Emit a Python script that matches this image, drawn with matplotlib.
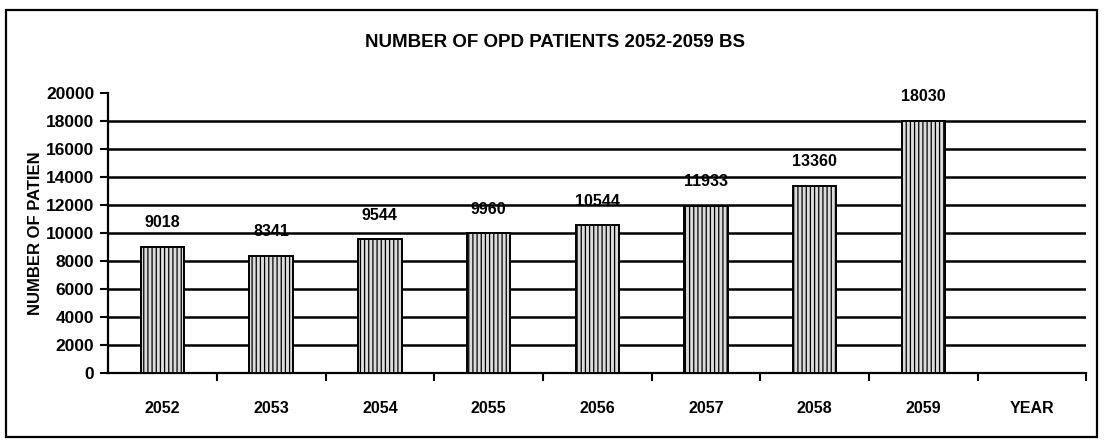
import matplotlib.pyplot as plt
from matplotlib.patches import Rectangle

# values as printed above each bar
years = ['2052', '2053', '2054', '2055', '2056', '2057', '2058', '2059']
patients = [9018, 8341, 9544, 9960, 10544, 11933, 13360, 18030]
x_labels = years + ['YEAR']
y_ticks = list(range(0, 20001, 2000))

plt.rcParams['font.family'] = ['Liberation Sans', 'DejaVu Sans']
plt.rcParams['font.weight'] = 'bold'
plt.rcParams['hatch.color'] = '#5a5a5a'
plt.rcParams['hatch.linewidth'] = 0.9

fig = plt.figure(figsize=(11.04, 4.47), dpi=100)
ax = fig.add_axes([0.098, 0.166, 0.886, 0.626])

# outer frame of the chart
fig.patches.append(Rectangle((0.005, 0.022), 0.989, 0.955, transform=fig.transFigure,
                             fill=False, edgecolor='black', linewidth=1.6))

# horizontal gridlines
for v in y_ticks[1:-1]:
    ax.axhline(v, color='black', linewidth=1.8, zorder=1)

pos = list(range(len(years)))
bars = ax.bar(pos, patients, width=0.4, color='#dcdcdc', edgecolor='black',
              hatch='||||', linewidth=1.4, zorder=3)

for p, v in zip(pos, patients):
    ax.annotate(str(v), (p, v), xytext=(0, 12), textcoords='offset points',
                ha='center', va='bottom', fontsize=11.5, fontweight='bold')

ax.set_xlim(-0.5, len(x_labels) - 0.5)
ax.set_ylim(0, 20000)
ax.set_yticks(y_ticks)
ax.set_yticklabels([str(t) for t in y_ticks], fontsize=12.5, fontweight='bold')

# ticks between categories, labels at centres
ax.set_xticks([i + 0.5 for i in range(len(x_labels))])
ax.set_xticklabels([])
ax.set_xticks(range(len(x_labels)), minor=True)
ax.set_xticklabels(x_labels, minor=True, fontsize=11.5, fontweight='bold')
ax.tick_params(axis='x', which='minor', length=0, pad=20)
ax.tick_params(axis='x', which='major', length=6, width=1.5, direction='out')
ax.tick_params(axis='y', length=6, width=1.5, direction='out', pad=4)

for s in ['top', 'right']:
    ax.spines[s].set_visible(False)
for s in ['left', 'bottom']:
    ax.spines[s].set_linewidth(1.6)

ax.set_ylabel('NUMBER OF PATIEN', fontsize=12, fontweight='bold', labelpad=2)
fig.text(0.503, 0.905, 'NUMBER OF OPD PATIENTS 2052-2059 BS', ha='center', va='center',
         fontsize=13.5, fontweight='bold')

fig.savefig('out.png', dpi=100)
